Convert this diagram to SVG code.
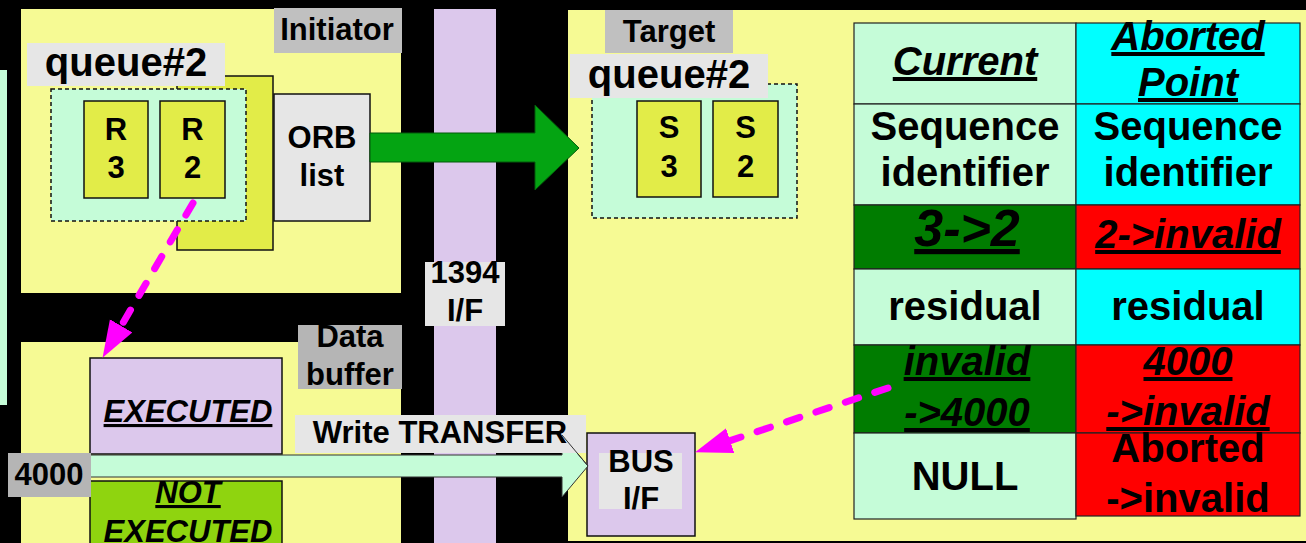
<svg xmlns="http://www.w3.org/2000/svg" width="1306" height="543" viewBox="0 0 1306 543">
<style>
.t{font-family:"Liberation Sans",Arial,sans-serif;font-weight:bold;text-anchor:middle;fill:#000}
.s31{font-size:31px}
.s40{font-size:40px}
.s52{font-size:52px}
.iu{font-style:italic;text-decoration:underline}
.panel{fill:#f6fa94}
.lbl{fill:#c0c0c0}
.lbl2{fill:#b5b5b5}
.lgray{fill:#e6e6e6}
.box{stroke:#111;stroke-width:1.5}
.ygreen{fill:#e2ec48}
.mint{fill:#c5fcd8}
.lav{fill:#dcc8ec}
.dash{fill:#c5fcd8;stroke:#111;stroke-width:1.5;stroke-dasharray:4 3}
.cell{stroke:#222;stroke-width:1.2}
.mag{fill:none;stroke:#ff00ff;stroke-width:7;stroke-linecap:round;stroke-dasharray:14 17}
</style>
<defs>
<marker id="mh" markerUnits="userSpaceOnUse" markerWidth="40" markerHeight="30" refX="0" refY="13" orient="auto">
<path d="M0,0 L37,13 L0,26 Z" fill="#ff00ff"/>
</marker>
</defs>
<rect x="0" y="0" width="1306" height="543" fill="#000"/>
<rect x="0" y="70" width="7" height="335" class="mint"/>
<g id="initiator-panel">
<rect x="21" y="9" width="380" height="284" class="panel"/>
</g>
<g id="data-panel">
<rect x="21" y="342" width="380" height="210" class="panel"/>
</g>
<g id="if1394-bar">
<rect x="434" y="9" width="62" height="540" class="lav"/>
</g>
<g id="target-panel">
<rect x="568" y="10" width="745" height="531" class="panel"/>
</g>
<g id="initiator-label">
<rect x="274" y="8" width="128" height="45" class="lbl"/>
<text x="337" y="40" class="t s31">Initiator</text>
</g>
<g id="queue-back">
<rect x="177" y="76" width="96" height="174" class="ygreen box"/>
</g>
<g id="queue2-label">
<rect x="27" y="43" width="198" height="43" class="lgray"/>
<text x="126" y="76" class="t s40">queue#2</text>
</g>
<g id="queue2-box">
<rect x="51" y="89" width="195" height="132" class="dash"/>
</g>
<g id="R3">
<rect x="84" y="101" width="64" height="97" class="ygreen box"/>
<text x="116" y="140" class="t s31">R</text>
<text x="116" y="178" class="t s31">3</text>
</g>
<g id="R2">
<rect x="160" y="101" width="65" height="97" class="ygreen box"/>
<text x="192.5" y="140" class="t s31">R</text>
<text x="192.5" y="178" class="t s31">2</text>
</g>
<g id="orb-list">
<rect x="274" y="94" width="96" height="127" class="lgray box"/>
<text x="322" y="148" class="t s31">ORB</text>
<text x="322" y="186" class="t s31">list</text>
</g>
<g id="if1394-label">
<rect x="425" y="262" width="80" height="64" class="lgray"/>
<text x="465" y="283" class="t s31">1394</text>
<text x="465" y="321" class="t s31">I/F</text>
</g>
<g id="data-buffer-label">
<rect x="298" y="325" width="104" height="64" class="lbl2"/>
<text x="350" y="347" class="t s31">Data</text>
<text x="350" y="385" class="t s31">buffer</text>
</g>
<g id="executed">
<rect x="90" y="358" width="192" height="96" class="lav box"/>
<text x="188" y="422" class="t s31 iu">EXECUTED</text>
</g>
<g id="not-executed">
<rect x="90" y="481" width="192" height="70" fill="#8fd40f" class="box"/>
<text x="188" y="503" class="t s31 iu">NOT</text>
<text x="188" y="542" class="t s31 iu">EXECUTED</text>
</g>
<g id="target-label">
<rect x="605" y="10" width="128" height="43" class="lbl"/>
<text x="669" y="42" class="t s31">Target</text>
</g>
<g id="target-queue-box">
<rect x="592" y="84" width="205" height="134" class="dash"/>
</g>
<g id="target-queue-label">
<rect x="570" y="54" width="198" height="44" class="lgray"/>
<text x="669" y="88" class="t s40">queue#2</text>
</g>
<g id="S3">
<rect x="637" y="101" width="64" height="96" class="ygreen box"/>
<text x="669" y="138" class="t s31">S</text>
<text x="669" y="177" class="t s31">3</text>
</g>
<g id="S2">
<rect x="713" y="101" width="65" height="96" class="ygreen box"/>
<text x="745.5" y="138" class="t s31">S</text>
<text x="745.5" y="177" class="t s31">2</text>
</g>
<g id="bus-if">
<rect x="587" y="433" width="108" height="103" class="lav box"/>
<rect x="599" y="453" width="83" height="56" class="lgray"/>
<text x="641" y="472" class="t s31">BUS</text>
<text x="641" y="509" class="t s31">I/F</text>
</g>
<g id="table">
<rect x="854" y="23" width="222" height="81" class="mint cell"/>
<rect x="1076" y="23" width="224" height="81" fill="#00ffff" class="cell"/>
<rect x="854" y="104" width="222" height="101" class="mint cell"/>
<rect x="1076" y="104" width="224" height="101" fill="#00ffff" class="cell"/>
<rect x="854" y="205" width="222" height="64" fill="#007c00" class="cell"/>
<rect x="1076" y="205" width="224" height="64" fill="#ff0000" class="cell"/>
<rect x="854" y="269" width="222" height="76" class="mint cell"/>
<rect x="1076" y="269" width="224" height="76" fill="#00ffff" class="cell"/>
<rect x="854" y="345" width="222" height="88" fill="#007c00" class="cell"/>
<rect x="1076" y="345" width="224" height="88" fill="#ff0000" class="cell"/>
<rect x="854" y="433" width="222" height="86" class="mint cell"/>
<rect x="1076" y="433" width="224" height="83" fill="#ff0000" class="cell"/>
<text x="965" y="75" class="t s40 iu">Current</text>
<text x="1188" y="50" class="t s40 iu">Aborted</text>
<text x="1188" y="96" class="t s40 iu">Point</text>
<text x="965" y="140" class="t s40">Sequence</text>
<text x="965" y="186" class="t s40">identifier</text>
<text x="1188" y="140" class="t s40">Sequence</text>
<text x="1188" y="186" class="t s40">identifier</text>
<text x="967" y="246" class="t s52 iu">3-&gt;2</text>
<text x="1188" y="248" class="t s40 iu">2-&gt;invalid</text>
<text x="965" y="320" class="t s40">residual</text>
<text x="1188" y="320" class="t s40">residual</text>
<text x="967" y="375" class="t s40 iu">invalid</text>
<text x="967" y="426" class="t s40 iu">-&gt;4000</text>
<text x="1188" y="375" class="t s40 iu">4000</text>
<text x="1188" y="425" class="t s40 iu">-&gt;invalid</text>
<text x="965" y="490" class="t s40">NULL</text>
<text x="1188" y="462" class="t s40">Aborted</text>
<text x="1188" y="512" class="t s40">-&gt;invalid</text>
</g>
<g id="connectors">
<polygon points="370,133 535,133 535,105 579,148 535,190 535,162 370,162" fill="#04a412" stroke="#035a0a" stroke-width="1"/>
<polygon points="60,455 562,455 562,435 588,466 562,497 562,477 60,477" class="mint" stroke="#333" stroke-width="1"/>
<g id="write-transfer-label">
<rect x="295" y="415" width="291" height="38" class="lgray"/>
<text x="440" y="443" class="t s31">Write TRANSFER</text>
</g>
<line x1="562" y1="435" x2="588" y2="466" stroke="#333" stroke-width="1"/>
<g id="label-4000">
<rect x="8" y="453" width="83" height="44" class="lbl2"/>
<text x="49" y="485" class="t s31">4000</text>
</g>
<path d="M193,203 L121.2,325.9" class="mag" marker-end="url(#mh)"/>
<path d="M888,388 L730.2,440.6" class="mag" marker-end="url(#mh)"/>
</g>
</svg>
